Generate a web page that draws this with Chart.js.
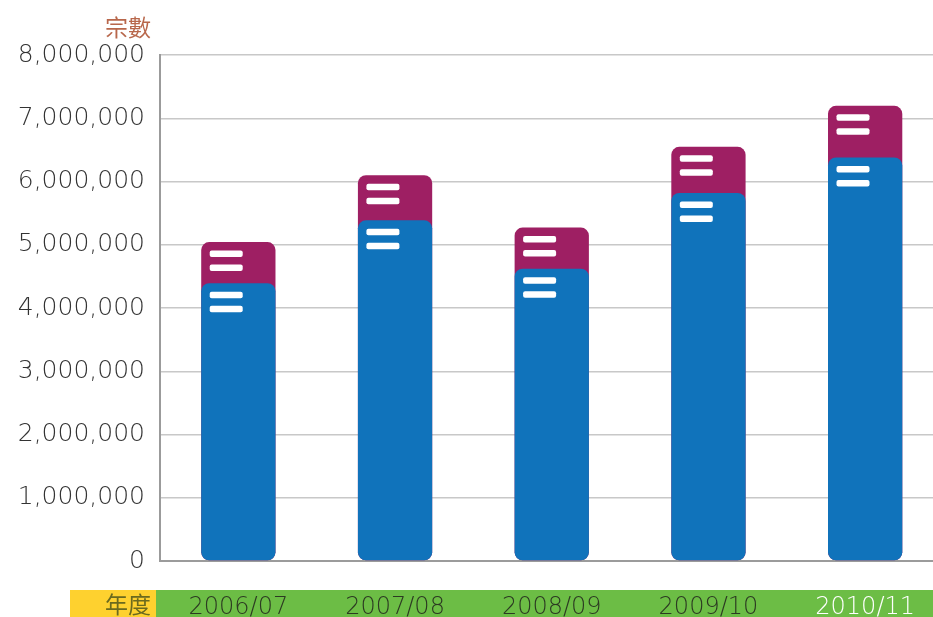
<!DOCTYPE html>
<html>
<head>
<meta charset="utf-8">
<script src="https://cdn.jsdelivr.net/npm/chart.js@4"></script>
<style>
html,body{margin:0;padding:0;background:#fff;overflow:hidden;width:933px;height:617px;}
#wrap{width:933px;height:617px;overflow:hidden;position:relative;}
canvas{display:block;}
</style>
</head>
<body>
<div id="wrap"><canvas id="c" width="947" height="617"></canvas></div>
<script>
const categories = ['2006/07', '2007/08', '2008/09', '2009/10', '2010/11'];
const lowerSeries = [4393000, 5386000, 4621000, 5819000, 6379000];
const totalSeries = [5042000, 6099000, 5271000, 6548000, 7197000];
const yTicks = [0, 1000000, 2000000, 3000000, 4000000, 5000000, 6000000, 7000000, 8000000];
const yTitle = '宗數';
const xTitle = '年度';

const FONT = '"DejaVu Sans", sans-serif';

const decor = {
  id: 'decor',
  beforeDraw(chart) {
    const ctx = chart.ctx;
    ctx.save();
    ctx.fillStyle = '#fed12f';
    ctx.fillRect(70, 590, 86, 27);
    ctx.fillStyle = '#6cbd45';
    ctx.fillRect(156, 590, chart.width - 156, 27);
    ctx.font = '23px "Noto Sans CJK TC", sans-serif';
    ctx.textAlign = 'right';
    ctx.textBaseline = 'middle';
    ctx.fillStyle = '#6b6a1e';
    ctx.fillText(xTitle, 151, 604);
    ctx.fillStyle = '#b8674b';
    ctx.fillText(yTitle, 151, 27);
    ctx.restore();
  },
  afterDatasetsDraw(chart) {
    const ctx = chart.ctx;
    ctx.save();
    ctx.fillStyle = '#ffffff';
    chart.data.datasets.forEach((ds, di) => {
      const meta = chart.getDatasetMeta(di);
      meta.data.forEach(bar => {
        const left = bar.x - bar.width / 2;
        [8.5, 22.5].forEach(off => {
          ctx.beginPath();
          ctx.roundRect(left + 8.5, bar.y + off, 33, 6.5, 2);
          ctx.fill();
        });
      });
    });
    ctx.restore();
  }
};

new Chart(document.getElementById('c'), {
  type: 'bar',
  data: {
    labels: categories,
    datasets: [
      { label: 'lower', data: lowerSeries, backgroundColor: '#1073bb', order: 0 },
      { label: 'total', data: totalSeries, backgroundColor: '#9e1f63', order: 1 }
    ]
  },
  options: {
    responsive: false,
    animation: false,
    devicePixelRatio: 1,
    layout: { padding: { top: 55, left: 0, right: 0, bottom: 0 } },
    datasets: {
      bar: {
        grouped: false,
        borderRadius: 8,
        borderSkipped: false,
        categoryPercentage: 0.474,
        barPercentage: 1
      }
    },
    plugins: { legend: { display: false }, tooltip: { enabled: false }, title: { display: false } },
    scales: {
      x: {
        afterFit(scale) { scale.height = 56; },
        grid: { display: false, drawTicks: false },
        border: { display: true, color: '#9b9b9b', width: 2 },
        ticks: {
          padding: 32,
          font: { family: FONT, size: 24, weight: 300 },
          color: (c) => c.index === 4 ? '#ffffff' : '#2c3a22'
        }
      },
      y: {
        min: 0,
        max: 8000000,
        afterFit(scale) { scale.width = 160; },
        afterBuildTicks(scale) { scale.ticks = yTicks.map(v => ({ value: v })); },
        grid: { color: '#c8c8c8', lineWidth: 1.5, drawTicks: false },
        border: { display: true, color: '#9b9b9b', width: 2 },
        ticks: {
          padding: 15,
          font: { family: FONT, size: 25, weight: 300 },
          color: '#333333',
          callback: (v) => Number(v).toLocaleString('en-US')
        }
      }
    }
  },
  plugins: [decor]
});
</script>
</body>
</html>
